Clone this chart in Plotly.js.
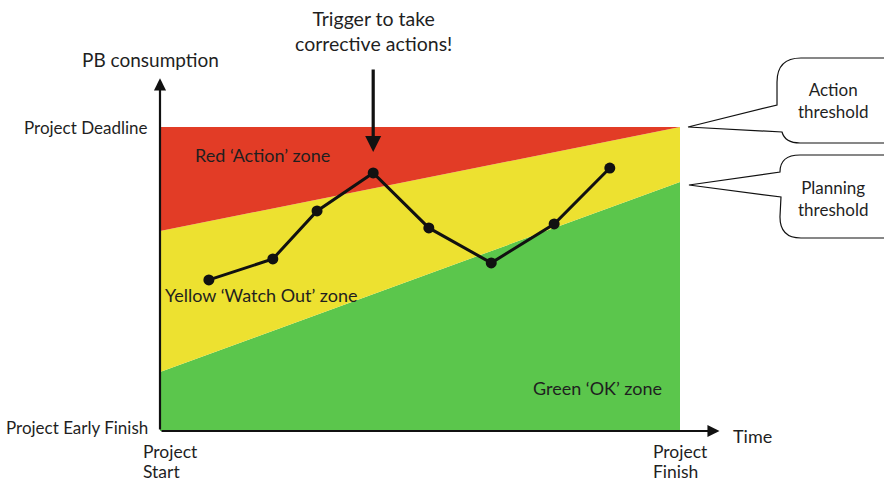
<!DOCTYPE html>
<html>
<head>
<meta charset="utf-8">
<script src="https://cdn.plot.ly/plotly-3.0.1.min.js"></script>
<style>
  html, body { margin: 0; padding: 0; background: #fff; }
  #chart { width: 884px; height: 481px; }
</style>
</head>
<body>
<div id="chart"></div>
<script>
// buffer chart: project time (0 = start, 100 = finish) vs PB consumption
// (0 = early finish, 100 = deadline)

var zoneX = [0, 100];
var planningThreshold = [19.4, 81.9];
var actionThreshold = [65.8, 100];
var deadlineLine = [100, 100];

var timeProgress = [9.4, 21.7, 30.2, 41.0, 51.7, 63.7, 75.8, 86.5];
var pbConsumption = [49.7, 56.6, 72.4, 84.9, 66.8, 55.3, 68.1, 86.5];

var FONT = 'Lato, "Open Sans", sans-serif';
var INK = '#1f1f1f';

// plot box in pixels, used only for placing the decorations
var L = 160, R = 164, T = 78, B = 50;
var W = 884, H = 481;
var plotW = W - L - R, plotH = H - T - B;
function px(x) { return (x - L) / plotW; }
function py(y) { return (H - B - y) / plotH; }

function bubblePath(pts) {
  // pts: list of [cmd, x, y, (x2, y2)]
  var s = '';
  for (var i = 0; i < pts.length; i++) {
    var p = pts[i];
    if (p[0] == 'Q') {
      s += 'Q' + px(p[1]).toFixed(4) + ',' + py(p[2]).toFixed(4) + ' ' +
           px(p[3]).toFixed(4) + ',' + py(p[4]).toFixed(4) + ' ';
    } else if (p[0] == 'Z') {
      s += 'Z';
    } else {
      s += p[0] + px(p[1]).toFixed(4) + ',' + py(p[2]).toFixed(4) + ' ';
    }
  }
  return s;
}

var traces = [
  {
    x: zoneX, y: planningThreshold, mode: 'lines', fill: 'tozeroy',
    fillcolor: '#5bc64c', line: {width: 0, color: '#5bc64c'}, hoverinfo: 'skip'
  },
  {
    x: zoneX, y: actionThreshold, mode: 'lines', fill: 'tonexty',
    fillcolor: '#ede130', line: {width: 0, color: '#ede130'}, hoverinfo: 'skip'
  },
  {
    x: zoneX, y: deadlineLine, mode: 'lines', fill: 'tonexty',
    fillcolor: '#e23c26', line: {width: 0, color: '#e23c26'}, hoverinfo: 'skip'
  },
  {
    x: timeProgress, y: pbConsumption, mode: 'lines+markers',
    line: {color: '#111', width: 3},
    marker: {color: '#111', size: 11}
  }
];

var txt = function (size) { return {family: FONT, size: size, color: INK}; };

// plain text label, anchored explicitly
function label(opts) {
  var a = {showarrow: false, xanchor: 'center', yanchor: 'middle', align: 'center'};
  for (var k in opts) a[k] = opts[k];
  return a;
}

var annotations = [
  // axes with arrow heads
  {x: 0, y: 116, ax: 0, ay: 0, axref: 'x', ayref: 'y', xref: 'x', yref: 'y',
   text: '', showarrow: true, arrowhead: 2, arrowsize: 1.1, arrowwidth: 2.2, arrowcolor: '#111'},
  {x: 107.6, y: 0, ax: 0, ay: 0, axref: 'x', ayref: 'y', xref: 'x', yref: 'y',
   text: '', showarrow: true, arrowhead: 2, arrowsize: 1.1, arrowwidth: 2.2, arrowcolor: '#111'},
  // trigger arrow
  {x: 41.0, y: 91.8, xref: 'x', yref: 'y', ax: 0, ay: -84,
   text: '', showarrow: true, arrowhead: 2, arrowsize: 1, arrowwidth: 3.2, arrowcolor: '#111'},

  label({xref: 'paper', yref: 'paper', x: px(150), y: py(59), text: 'PB consumption', font: txt(19)}),
  label({xref: 'paper', yref: 'y', x: px(149), y: 100, xanchor: 'right', text: 'Project Deadline', font: txt(17)}),
  label({xref: 'paper', yref: 'y', x: px(150), y: 1.3, xanchor: 'right', text: 'Project Early Finish', font: txt(17)}),
  label({xref: 'paper', yref: 'paper', x: px(141), y: py(451), xanchor: 'left', text: 'Project', font: txt(17.5)}),
  label({xref: 'paper', yref: 'paper', x: px(141), y: py(471), xanchor: 'left', text: 'Start', font: txt(17.5)}),
  label({xref: 'paper', yref: 'paper', x: px(651), y: py(451), xanchor: 'left', text: 'Project', font: txt(17.5)}),
  label({xref: 'paper', yref: 'paper', x: px(651), y: py(471), xanchor: 'left', text: 'Finish', font: txt(17.5)}),
  label({xref: 'paper', yref: 'paper', x: px(731), y: py(436), xanchor: 'left', text: 'Time', font: txt(18)}),
  label({xref: 'x', yref: 'paper', x: 41.0, y: py(31), text: 'Trigger to take<br>corrective actions!',
   font: txt(19.5)}),

  label({xref: 'x', yref: 'y', x: 6.3, y: 90.8, xanchor: 'left', text: 'Red ‘Action’ zone', font: txt(18)}),
  label({xref: 'x', yref: 'y', x: 0.6, y: 44.7, xanchor: 'left', text: 'Yellow ‘Watch Out’ zone', font: txt(18)}),
  label({xref: 'x', yref: 'y', x: 71.4, y: 14.1, xanchor: 'left', text: 'Green ‘OK’ zone', font: txt(18)}),

  label({xref: 'paper', yref: 'paper', x: px(833), y: py(100), text: 'Action<br>threshold', font: txt(17)}),
  label({xref: 'paper', yref: 'paper', x: px(833), y: py(198), text: 'Planning<br>threshold', font: txt(17)})
];

var shapes = [
  {type: 'path', xref: 'paper', yref: 'paper', layer: 'above',
   fillcolor: '#fff', line: {color: '#111', width: 1.2},
   path: 'M' + px(688).toFixed(4) + ',' + py(127).toFixed(4) + ' ' + bubblePath([
     ['L', 777, 105], ['L', 777, 82], ['Q', 777, 58, 801, 58],
     ['L', 930, 58], ['L', 930, 143], ['L', 800, 143],
     ['Q', 785, 143, 782, 132], ['Z']
   ])},
  {type: 'path', xref: 'paper', yref: 'paper', layer: 'above',
   fillcolor: '#fff', line: {color: '#111', width: 1.2},
   path: 'M' + px(689).toFixed(4) + ',' + py(185).toFixed(4) + ' ' + bubblePath([
     ['L', 780, 172], ['Q', 780, 155, 800, 155],
     ['L', 930, 155], ['L', 930, 238], ['L', 801, 238],
     ['Q', 780, 238, 780, 217], ['L', 781, 197], ['Z']
   ])}
];

var layout = {
  width: W, height: H,
  margin: {l: L, r: R, t: T, b: B, pad: 0},
  paper_bgcolor: '#fff', plot_bgcolor: 'rgba(0,0,0,0)',
  showlegend: false,
  xaxis: {range: [0, plotW / 5.2], showgrid: false, zeroline: false, showline: false,
          showticklabels: false, ticks: '', fixedrange: true},
  yaxis: {range: [0, plotH / 3.04], showgrid: false, zeroline: false, showline: false,
          showticklabels: false, ticks: '', fixedrange: true},
  annotations: annotations,
  shapes: shapes
};

Plotly.newPlot('chart', traces, layout, {displayModeBar: false, staticPlot: true});
</script>
</body>
</html>
